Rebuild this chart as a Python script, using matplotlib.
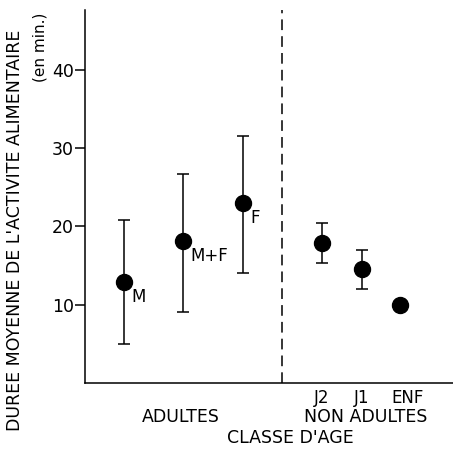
import matplotlib
matplotlib.use('Agg')
import matplotlib.pyplot as plt

# values (minutes)
adult_labels = ['M', 'M+F', 'F']
adult_mean = [12.9, 18.1, 23.0]
adult_low = [5.0, 9.0, 14.0]
adult_high = [20.8, 26.7, 31.5]

young_labels = ['J2', 'J1', 'ENF']
young_mean = [17.9, 14.6, 10.0]
young_low = [15.3, 12.0, 10.0]
young_high = [20.4, 17.0, 10.0]

yticks = [10, 20, 30, 40]

adult_x = [1.0, 2.0, 3.0]
young_x = [4.33, 5.0, 5.64]
sep_x = 3.66

plt.rcParams['font.family'] = ['DejaVu Sans']
W, H = 453, 449
fig = plt.figure(figsize=(W / 100, H / 100), dpi=100)
ax = fig.add_axes([85 / W, (H - 383) / H, (W - 85) / W, (383 - 10) / H])

def draw(xs, mean, low, high):
    yerr = [[m - l for m, l in zip(mean, low)], [h - m for m, h in zip(mean, high)]]
    ax.errorbar(xs, mean, yerr=yerr, fmt='o', color='black', ms=11.5,
                elinewidth=1.1, capsize=4.3, capthick=1.1)

draw(adult_x, adult_mean, adult_low, adult_high)
draw(young_x, young_mean, young_low, young_high)

# point labels for adults
for x, y, lab in zip(adult_x, adult_mean, adult_labels):
    ax.text(x + 0.12, y - 1.9, lab, fontsize=12, va='center', ha='left')

ax.axvline(sep_x, color='black', lw=1.1, dashes=(7, 4))

ax.set_xlim(0.345, 6.53)
ax.set_ylim(0, 47.6)
ax.set_yticks(yticks)
ax.set_xticks([])
ax.tick_params(axis='y', direction='out', length=7, width=1.1, pad=1, labelsize=12.5)
for s in ['top', 'right']:
    ax.spines[s].set_visible(False)
for s in ['left', 'bottom']:
    ax.spines[s].set_linewidth(1.1)

# category labels under the axis
young_lab_x = [4.33, 5.0, 5.76]
for x, lab in zip(young_lab_x, young_labels):
    ax.text(x, -1.95, lab, fontsize=12, ha='center', va='center')
fig.text(181 / W, 1 - 417 / H, 'ADULTES', fontsize=12.5, ha='center', va='center')
fig.text(366 / W, 1 - 417 / H, 'NON ADULTES', fontsize=12.5, ha='center', va='center')
fig.text(290 / W, 1 - 438 / H, "CLASSE D'AGE", fontsize=12.5, ha='center', va='center')

fig.text(15 / W, 1 - 230 / H, "DUREE MOYENNE DE L'ACTIVITE ALIMENTAIRE",
         fontsize=12.5, rotation=90, ha='center', va='center')
fig.text(40 / W, 1 - 13 / H, '(en min.)', fontsize=11, rotation=90,
         ha='center', va='top')

fig.savefig('out.png', dpi=100)
